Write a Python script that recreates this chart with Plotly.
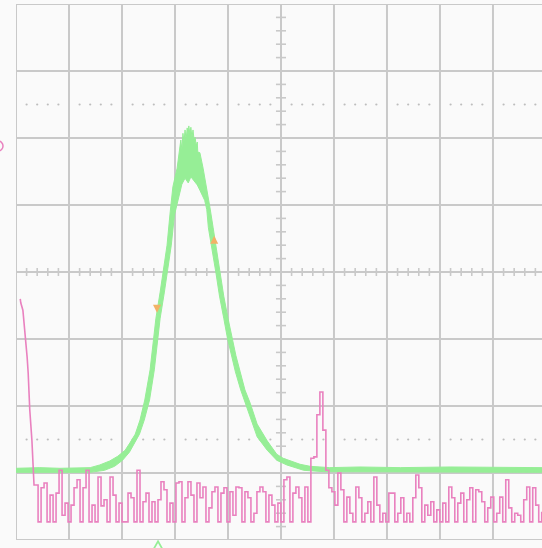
import numpy as np
import plotly.graph_objects as go

# ---------------- data (scope divisions: x centre-origin, y bottom-origin) -------------
# Channel 2 (pink) leading edge, then the sampled noise record
pink_lead_x = [-4.92, -4.91, -4.87, -4.83, -4.79, -4.77, -4.74, -4.70, -4.68, -4.66]
pink_lead_y = [3.60, 3.54, 3.43, 3.13, 2.73, 2.49, 1.94, 1.49, 1.04, 0.82]
pink_start, pink_end = -4.64, 4.92
pink_vals = [
    # -4.64 .. -3.00
    0.82, 0.27, 0.78, 0.85, 0.27, 0.67, 0.27, 0.70, 1.04, 0.37,
    0.55, 0.27, 0.52, 0.78, 0.90, 0.27, 0.78, 1.04, 0.27, 0.52,
    0.27, 0.94, 0.51, 0.60, 0.27, 0.94, 0.67, 0.27, 0.55, 0.27,
    # -2.94 .. -1.00
    0.27, 0.70, 0.63, 0.27, 1.04, 0.27, 0.57, 0.70, 0.27, 0.57,
    0.27, 0.60, 0.87, 0.75, 0.27, 0.55, 0.27, 0.85, 0.87, 0.27,
    0.63, 0.87, 0.67, 0.27, 0.85, 0.63, 0.79, 0.27, 0.48, 0.72,
    0.79, 0.27, 0.70, 0.78, 0.27,
    # -0.96 .. 0.51
    0.72, 0.37, 0.79, 0.78, 0.27, 0.72, 0.63, 0.27, 0.40, 0.72,
    0.79, 0.72, 0.27, 0.67, 0.52, 0.27, 0.55, 0.27, 0.90, 0.94,
    0.27, 0.70, 0.79, 0.63, 0.27, 0.79, 0.27,
    # echo pulse
    1.22, 1.24, 1.87, 2.21, 1.64, 1.04, 0.78, 0.72, 0.52, 1.00,
    # 1.13 .. 3.00
    0.75, 0.27, 0.64, 0.40, 0.27, 0.79, 0.63, 0.27, 0.40, 0.57,
    0.27, 0.94, 0.52, 0.27, 0.40, 0.27, 0.70, 0.70, 0.27, 0.40,
    0.63, 0.27, 0.40, 0.27, 0.63, 0.97, 0.78, 0.27, 0.52, 0.37,
    0.57, 0.27, 0.45, 0.27,
    # 3.06 .. 4.92
    0.55, 0.27, 0.79, 0.63, 0.27, 0.55, 0.70, 0.27, 0.60, 0.78,
    0.27, 0.75, 0.72, 0.57, 0.27, 0.48, 0.64, 0.27, 0.40, 0.64,
    0.27, 0.90, 0.48, 0.27, 0.40, 0.37, 0.27, 0.60, 0.79, 0.27,
    0.78, 0.52, 0.27, 0.42,
]

# Channel 1 (green) envelope: upper and lower edge of the noisy band
green_up_x = [-5.00, -4.55, -4.17, -3.79, -3.60, -3.42, -3.23, -3.08, -2.94, -2.85,
              -2.75, -2.66, -2.57, -2.47, -2.42, -2.36, -2.28, -2.23, -2.15, -2.09,
              -2.04, -1.96, -1.91, -1.89, -1.87, -1.85, -1.83, -1.81, -1.79, -1.77,
              -1.75, -1.74, -1.72, -1.70, -1.68, -1.66, -1.64, -1.62, -1.60, -1.58,
              -1.57, -1.53, -1.47, -1.40, -1.34, -1.28, -1.21, -1.15, -1.08, -1.00,
              -0.92, -0.85, -0.77, -0.68, -0.58, -0.45, -0.26, -0.08, 0.04, 0.23,
              0.36, 0.55, 0.92, 1.49, 2.25, 3.19, 4.13, 4.93]
green_up_y = [1.07, 1.08, 1.07, 1.08, 1.08, 1.12, 1.18, 1.25, 1.34, 1.45,
              1.58, 1.79, 2.09, 2.54, 2.91, 3.31, 3.70, 4.00, 4.40, 4.90,
              5.27, 5.55, 5.87, 5.97, 5.82, 6.07, 5.94, 6.12, 5.97, 6.15,
              6.03, 6.18, 6.07, 6.16, 6.01, 6.12, 5.97, 6.01, 5.88, 5.94,
              5.79, 5.78, 5.55, 5.25, 4.96, 4.66, 4.30, 4.00, 3.64, 3.31,
              3.01, 2.75, 2.51, 2.24, 2.04, 1.73, 1.48, 1.28, 1.22, 1.16,
              1.13, 1.10, 1.08, 1.09, 1.08, 1.09, 1.08, 1.08]
green_lo_x = [-5.00, -4.17, -3.60, -3.33, -3.14, -2.99, -2.86, -2.77, -2.67, -2.58,
              -2.48, -2.39, -2.33, -2.28, -2.20, -2.14, -2.07, -2.01, -1.92, -1.87,
              -1.81, -1.75, -1.70, -1.64, -1.58, -1.53, -1.44, -1.40, -1.37, -1.29,
              -1.23, -1.16, -1.08, -1.01, -0.93, -0.86, -0.76, -0.67, -0.58, -0.45,
              -0.26, -0.08, 0.11, 0.25, 0.43, 0.81, 4.93]
green_lo_y = [1.01, 1.01, 1.01, 1.04, 1.10, 1.19, 1.31, 1.43, 1.58, 1.79,
              2.09, 2.54, 2.91, 3.31, 3.70, 4.00, 4.40, 4.85, 5.13, 5.31,
              5.40, 5.33, 5.42, 5.36, 5.30, 5.22, 5.07, 4.93, 4.66, 4.30,
              4.00, 3.64, 3.31, 3.01, 2.75, 2.51, 2.24, 2.04, 1.84, 1.54,
              1.34, 1.19, 1.12, 1.09, 1.04, 1.02, 1.01]

# cursor marks and channel / trigger markers
cursor_x = [-2.34, -1.26]
cursor_y = [3.39, 4.54]
ch1_level = 3.12
ch2_level = 5.88
trigger_x = -2.32

# ---------------- figure -------------------------------------------------------------
X0, X1 = -5.0, 4.925
Y0, Y1 = 0.0, 8.0
GRID = "#c9c9c9"
BG = "#fafafa"
GREEN = "#96ee96"
PINK = "#e981bf"
ORANGE = "#f2b266"


def px_x(v):
    """data x -> paper fraction"""
    return (v - X0) / (X1 - X0)


def px_y(v):
    """data y -> paper fraction"""
    return (v - Y0) / (Y1 - Y0)


fig = go.Figure()

# graticule
shapes = []
for gx in range(-5, 5):
    shapes.append(dict(type="line", xref="x", yref="y", x0=gx, x1=gx, y0=Y0, y1=Y1,
                       line=dict(color=GRID, width=2), layer="below"))
for gy in range(0, 9):
    shapes.append(dict(type="line", xref="x", yref="y", x0=X0, x1=5, y0=gy, y1=gy,
                       line=dict(color=GRID, width=2), layer="below"))

# channel-2 ground marker (ring, mostly off-screen at the left edge)
shapes.append(dict(type="circle", xref="paper", yref="paper",
                   x0=px_x(-5.43), x1=px_x(-5.245),
                   y0=px_y(ch2_level - 0.075), y1=px_y(ch2_level + 0.075),
                   line=dict(color=PINK, width=1.5)))
# trigger position marker (open chevron at the bottom edge)
tcx, tcy = px_x(trigger_x), px_y(-0.02)
w = 4.0 / 526
h = 7.0 / 536
shapes.append(dict(type="path", xref="paper", yref="paper",
                   path=f"M {tcx - w} {tcy - h} L {tcx} {tcy} L {tcx + w} {tcy - h}",
                   line=dict(color=GREEN, width=1.8)))

minor_x = [round(-5 + 0.2 * k, 2) for k in range(0, 51) if k % 5]
minor_y = [round(0.2 * k, 2) for k in range(0, 41) if k % 5]

# minor ticks on the centre lines
tx, ty = [], []
for mx in minor_x:
    tx += [mx, mx, None]
    ty += [4 - 0.06, 4 + 0.06, None]
for my in minor_y:
    tx += [-0.095, 0.095, None]
    ty += [my, my, None]
fig.add_trace(go.Scatter(x=tx, y=ty, mode="lines", line=dict(color=GRID, width=1.6),
                         hoverinfo="skip", showlegend=False))

# dotted rows at +/-2.5 div
dx = minor_x + minor_x
dy = [6.5] * len(minor_x) + [1.5] * len(minor_x)
fig.add_trace(go.Scatter(x=dx, y=dy, mode="markers",
                         marker=dict(color="#bdbdbd", size=2.2), hoverinfo="skip",
                         showlegend=False))

# green band (closed polygon: upper edge then lower edge reversed)
poly_x = green_up_x + green_lo_x[::-1]
poly_y = green_up_y + green_lo_y[::-1]
fig.add_trace(go.Scatter(x=poly_x, y=poly_y, mode="lines", fill="toself",
                         fillcolor=GREEN, line=dict(color=GREEN, width=1),
                         hoverinfo="skip", showlegend=False))

# pink trace: sloped leading edge, then the stepped sample record
noise_x = list(np.linspace(pink_start, pink_end, len(pink_vals)))
fig.add_trace(go.Scatter(x=pink_lead_x + noise_x[:1], y=pink_lead_y + pink_vals[:1],
                         mode="lines", line=dict(color=PINK, width=1.6),
                         hoverinfo="skip", showlegend=False))
fig.add_trace(go.Scatter(x=noise_x, y=pink_vals, mode="lines", line_shape="hv",
                         line=dict(color=PINK, width=1.6), hoverinfo="skip",
                         showlegend=False))

# cursor marks
fig.add_trace(go.Scatter(x=cursor_x, y=cursor_y, mode="markers",
                         marker=dict(symbol=["arrow-down", "arrow-up"], color=ORANGE,
                                     size=8, line=dict(width=0)),
                         hoverinfo="skip", showlegend=False))

# channel-1 ground marker (left margin)
fig.add_trace(go.Scatter(x=[-5.15], y=[ch1_level], mode="markers", cliponaxis=False,
                         marker=dict(symbol="triangle-right", color=GREEN, size=10),
                         hoverinfo="skip", showlegend=False))

fig.update_layout(
    width=542, height=548,
    margin=dict(l=16, r=0, t=4, b=8, pad=0),
    paper_bgcolor=BG, plot_bgcolor=BG,
    shapes=shapes,
    xaxis=dict(range=[X0, X1], showgrid=False, zeroline=False, showticklabels=False,
               ticks="", showline=False, fixedrange=True),
    yaxis=dict(range=[Y0, Y1], showgrid=False, zeroline=False, showticklabels=False,
               ticks="", showline=False, fixedrange=True),
)

fig.write_html("out.html")
